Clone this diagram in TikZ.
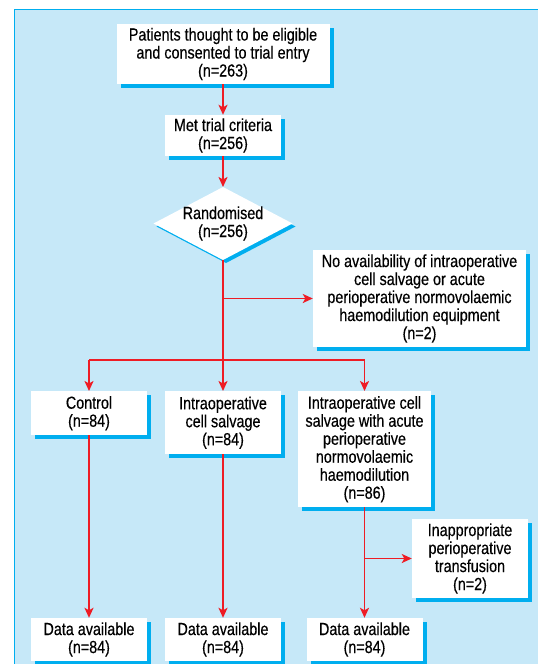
\documentclass[tikz,border=0pt]{standalone}
\usepackage{fontspec}
\setmainfont[FakeStretch=0.82,FakeBold=0.4]{Liberation Sans}
\usetikzlibrary{arrows.meta,shadows}
\definecolor{bgblue}{HTML}{C6E8F8}
\definecolor{shblue}{HTML}{00AEEF}
\definecolor{flowred}{HTML}{EE1C25}
\begin{document}
\begin{tikzpicture}[x=1pt,y=-1pt,
  every node/.style={font=\fontsize{17.5pt}{18pt}\selectfont, text=black},
  boxnode/.style={rectangle, fill=white, align=center, inner sep=0pt,
    drop shadow={shadow xshift=4pt, shadow yshift=-4pt, fill=shblue, opacity=1}},
  textnode/.style={align=center, inner sep=0pt},
  link/.style={draw=flowred, line width=1.8pt},
  arr/.style={link, -{Stealth[length=10pt,width=9pt,inset=2.5pt]}}]
\useasboundingbox (0,0) rectangle (538,664);
\fill[bgblue] (14,9) rectangle (538,664);
\draw[shblue, line width=0.8pt] (14,664) -- (14,9) -- (538,9);

\node[boxnode, minimum width=213pt, minimum height=60pt] (b1) at (223,54)
  {Patients thought to be eligible\\and consented to trial entry\\(n=263)};
\node[boxnode, minimum width=116pt, minimum height=41pt] (b2) at (223,135.5)
  {Met trial criteria\\(n=256)};
% diamond
\coordinate (randtop) at (223,187);
\coordinate (randbot) at (223,260);
\fill[shblue] (156.5,226.5) -- (226,263) -- (295.5,226.5) -- (226,190) -- cycle;
\fill[white] (153.5,223.5) -- (randbot) -- (292.5,223.5) -- (randtop) -- cycle;
\node[textnode] (rand) at (223,223.5) {Randomised\\(n=256)};
\node[boxnode, minimum width=213pt, minimum height=97pt] (noav) at (419.5,298.5)
  {No availability of intraoperative\\cell salvage or acute\\perioperative normovolaemic\\haemodilution equipment\\(n=2)};
\node[boxnode, minimum width=116pt, minimum height=44pt, anchor=north] (ctrl) at (89,391)
  {Control\\(n=84)};
\node[boxnode, minimum width=116pt, minimum height=63pt, anchor=north] (ics) at (223,391)
  {Intraoperative\\cell salvage\\(n=84)};
\node[boxnode, minimum width=133pt, minimum height=116pt, anchor=north] (ics3) at (364.5,391)
  {Intraoperative cell\\salvage with acute\\perioperative\\normovolaemic\\haemodilution\\(n=86)};
\node[boxnode, minimum width=116pt, minimum height=79pt] (inap) at (470,558.5)
  {Inappropriate\\perioperative\\transfusion\\(n=2)};
\node[boxnode, minimum width=116pt, minimum height=43pt] (d1) at (89,639.5)
  {Data available\\(n=84)};
\node[boxnode, minimum width=116pt, minimum height=43pt] (d2) at (223,639.5)
  {Data available\\(n=84)};
\node[boxnode, minimum width=116pt, minimum height=43pt] (d3) at (364.5,639.5)
  {Data available\\(n=84)};

\coordinate (split) at (randbot |- 0,360);
\coordinate (br1) at (randbot |- noav.west);
\coordinate (br2) at (ics3.south |- inap.west);

\draw[arr] (b1) -- (b2);
\draw[arr] (b2) -- (randtop);
\draw[link] (randbot) -- (split);
\draw[arr] (br1) -- (noav.west);
\draw[link] (ctrl.north |- split) -- (ics3.north |- split);
\draw[arr] (ctrl.north |- split) -- (ctrl.north);
\draw[arr] (split) -- (ics.north);
\draw[arr] (ics3.north |- split) -- (ics3.north);
\draw[arr] (ctrl.south) -- (d1.north);
\draw[arr] (ics.south) -- (d2.north);
\draw[arr] (ics3.south) -- (d3.north);
\draw[arr] (br2) -- (inap.west);
\end{tikzpicture}
\end{document}
